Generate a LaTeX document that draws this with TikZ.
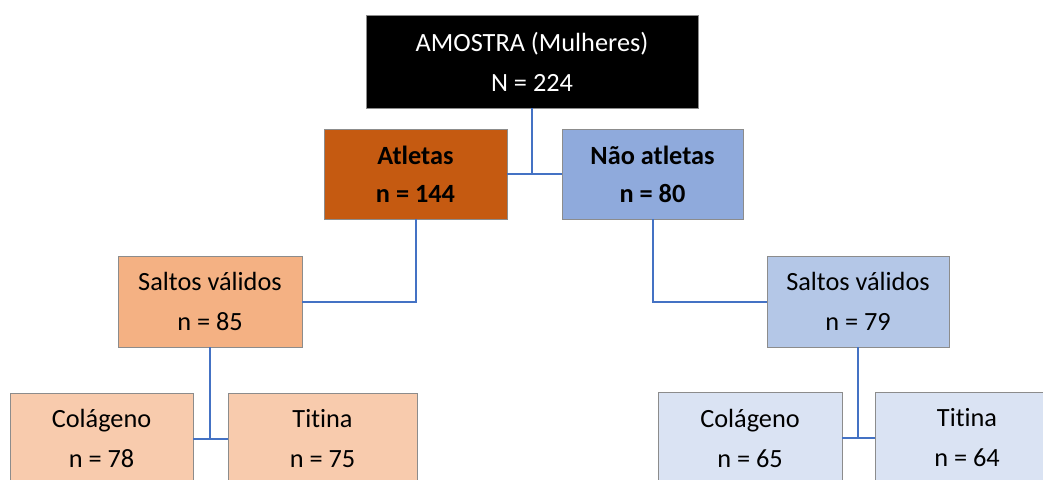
\documentclass[tikz,border=0pt]{standalone}
\usepackage{fontspec}
\setmainfont[Ligatures=NoCommon]{Carlito}
\definecolor{topbox}{HTML}{000000}
\definecolor{atl}{HTML}{C55A11}
\definecolor{natl}{HTML}{8FAADC}
\definecolor{saltL}{HTML}{F4B183}
\definecolor{subL}{HTML}{F8CBAD}
\definecolor{saltR}{HTML}{B4C7E7}
\definecolor{subR}{HTML}{DAE3F3}
\definecolor{link}{HTML}{4472C4}
\definecolor{edge}{HTML}{8C8C8C}
\begin{document}
\begin{tikzpicture}[x=1pt,y=-1pt,
  box/.style={rectangle,draw=edge,line width=0.8pt,align=center,inner sep=0pt,
    font=\fontsize{26.3}{40}\selectfont},
  boldbox/.style={box,font=\fontsize{26.3}{38}\selectfont\bfseries},
  conn/.style={draw=link,line width=2pt}]
\useasboundingbox (0,0) rectangle (1043,479);
\clip (0,0) rectangle (1043,479);
\node[box,fill=topbox,text=white,minimum width=332pt,minimum height=93pt] (top) at (532,61.5) {AMOSTRA (Mulheres)\\N = 224};
\node[boldbox,fill=atl,minimum width=183pt,minimum height=90pt] (atl) at (415.5,174) {Atletas\\n = 144};
\node[boldbox,fill=natl,minimum width=181pt,minimum height=90pt] (natl) at (652.5,174) {Não atletas\\n = 80};
\node[box,fill=saltL,minimum width=184pt,minimum height=91pt] (sl) at (210,301.5) {Saltos válidos\\n = 85};
\node[box,fill=saltR,minimum width=182pt,minimum height=91pt] (sr) at (858,301.5) {Saltos válidos\\n = 79};
\node[box,fill=subL,minimum width=183pt,minimum height=91pt] (cl) at (101.5,438.5) {Colágeno\\n = 78};
\node[box,fill=subL,minimum width=189pt,minimum height=91pt] (tl) at (322.5,438.5) {Titina\\n = 75};
\node[box,fill=subR,minimum width=184pt,minimum height=91pt] (cr) at (750,438) {Colágeno\\n = 65};
\node[box,fill=subR,minimum width=184pt,minimum height=91pt] (tr) at (967,438) {Titina\\n = 64};
\coordinate (j1) at (top.south |- atl.east);
\draw[conn] (top.south) -- (j1);
\draw[conn] (atl.east) -- (natl.west);
\draw[conn] (atl.south) |- (sl.east);
\draw[conn] (natl.south) |- (sr.west);
\coordinate (j2) at (sl.south |- cl.east);
\draw[conn] (sl.south) -- (j2);
\draw[conn] (cl.east) -- (tl.west);
\coordinate (j3) at (sr.south |- cr.east);
\draw[conn] (sr.south) -- (j3);
\draw[conn] (cr.east) -- (tr.west);
\end{tikzpicture}
\end{document}
